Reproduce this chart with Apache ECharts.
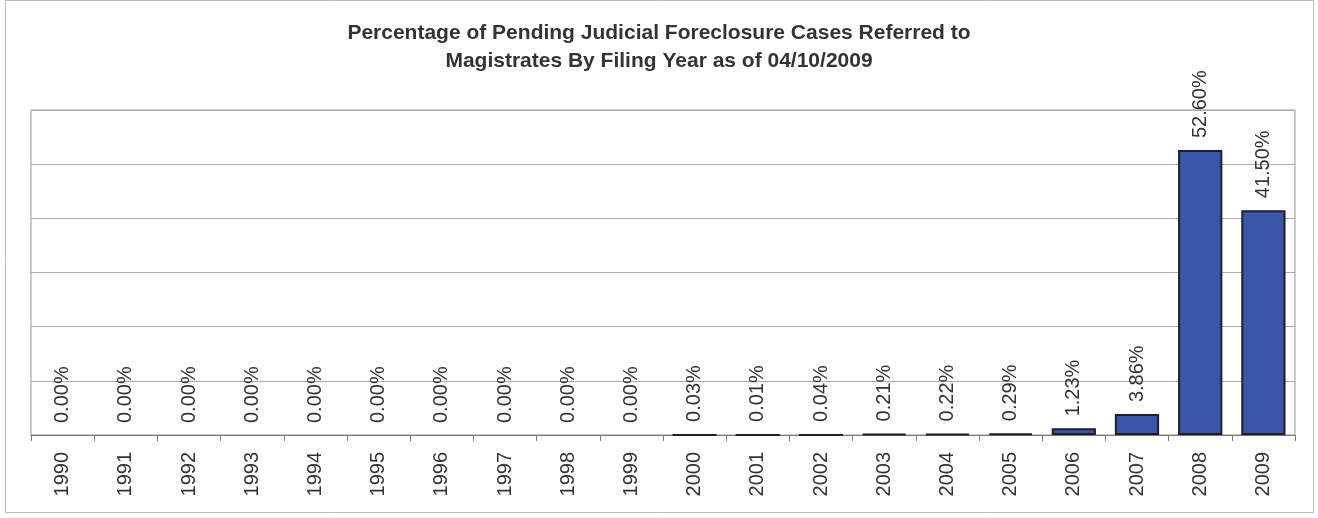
<!DOCTYPE html>
<html>
<head>
<meta charset="utf-8">
<script src="https://cdn.jsdelivr.net/npm/echarts@6/dist/echarts.min.js"></script>
<style>
  html, body { margin: 0; padding: 0; background: #fff; }
  #main { width: 1318px; height: 518px; }
</style>
</head>
<body>
<div id="main"></div>
<script>
// filing years and share of pending cases (%)
var years = ['1990','1991','1992','1993','1994','1995','1996','1997','1998','1999',
             '2000','2001','2002','2003','2004','2005','2006','2007','2008','2009'];
var percents = [0, 0, 0, 0, 0, 0, 0, 0, 0, 0,
                0.03, 0.01, 0.04, 0.21, 0.22, 0.29, 1.23, 3.86, 52.60, 41.50];
var yTicks = [0, 10, 20, 30, 40, 50, 60];

var myChart = echarts.init(document.getElementById('main'));

var barData = percents.map(function (v) {
    // zero bars draw nothing in the original
    return v === 0 ? { value: v, itemStyle: { borderWidth: 0 } } : v;
});

var option = {
    backgroundColor: '#fff',
    animation: false,
    title: {
        text: 'Percentage of Pending Judicial Foreclosure Cases Referred to\nMagistrates By Filing Year as of 04/10/2009',
        left: 'center',
        top: 14,
        textStyle: {
            fontFamily: 'Liberation Sans, Arial, sans-serif',
            fontSize: 21,
            fontWeight: 'bold',
            color: '#333',
            lineHeight: 28
        }
    },
    graphic: [{
        type: 'rect',
        shape: { x: 5.5, y: 0.5, width: 1308, height: 512 },
        style: { fill: 'none', stroke: '#bbb', lineWidth: 1 },
        silent: true
    }],
    grid: {
        left: 31,
        right: 23,
        top: 110,
        bottom: 83,
        show: true,
        borderColor: '#999',
        borderWidth: 1
    },
    xAxis: {
        type: 'category',
        data: years,
        axisLine: { lineStyle: { color: '#777', width: 1 } },
        axisTick: { show: true, length: 6, lineStyle: { color: '#777' } },
        axisLabel: {
            rotate: 90,
            margin: 17,
            fontFamily: 'Liberation Sans, Arial, sans-serif',
            fontSize: 20,
            color: '#333'
        }
    },
    yAxis: {
        type: 'value',
        min: yTicks[0],
        max: yTicks[yTicks.length - 1],
        interval: yTicks[1] - yTicks[0],
        axisLine: { show: false },
        axisTick: { show: false },
        axisLabel: { show: false },
        splitLine: { lineStyle: { color: '#aaa', width: 1 } }
    },
    series: [{
        type: 'bar',
        data: barData,
        barWidth: '70%',
        itemStyle: {
            color: '#3a56a8',
            borderColor: '#1e1e2a',
            borderWidth: 2
        },
        label: {
            show: true,
            position: 'top',
            rotate: 90,
            align: 'left',
            verticalAlign: 'middle',
            distance: 12,
            fontFamily: 'Liberation Sans, Arial, sans-serif',
            fontSize: 20,
            color: '#333',
            formatter: function (p) { return p.value.toFixed(2) + '%'; }
        }
    }]
};

myChart.setOption(option);
</script>
</body>
</html>
